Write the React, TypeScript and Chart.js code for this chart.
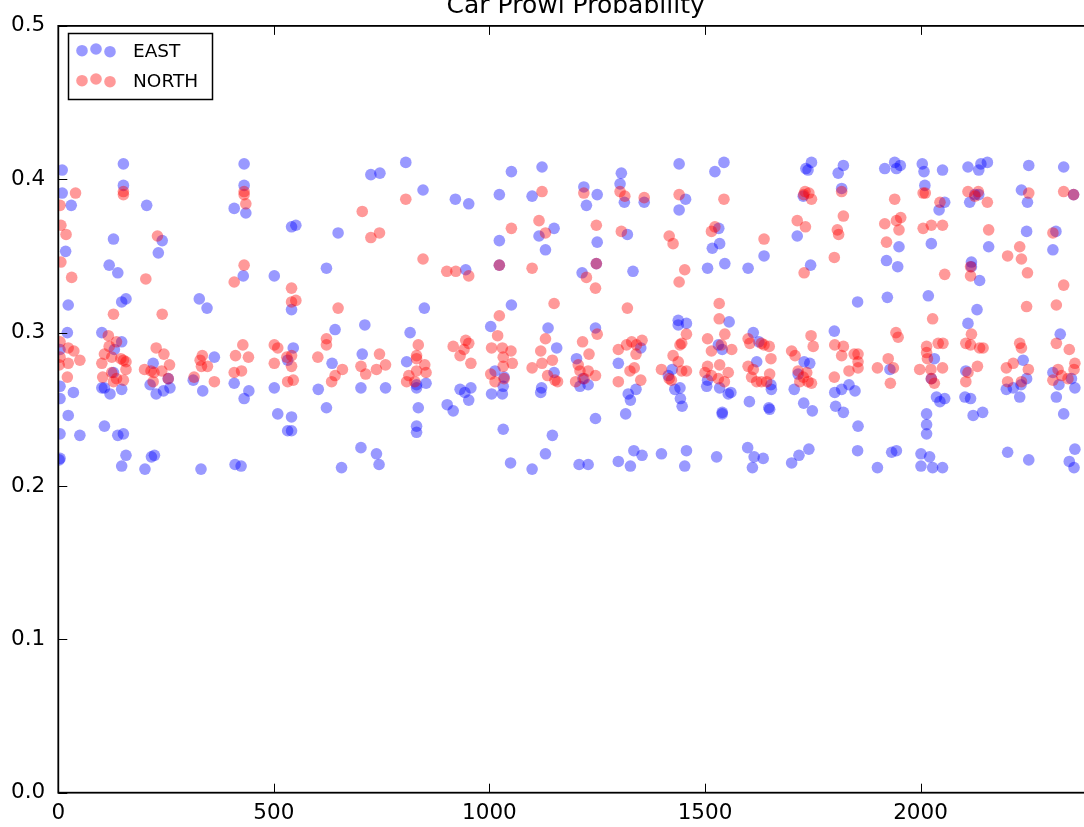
import React, { useEffect, useRef } from "react";
import { Chart, registerables } from "chart.js";

Chart.register(...registerables);

const titleText = "Car Prowl Probability";
const seriesNames = ["EAST", "NORTH"];
const xTickValues = [0, 500, 1000, 1500, 2000];
const yTickValues = [0.0, 0.1, 0.2, 0.3, 0.4, 0.5];

const eastX = [
  9, 151, 9, 151, 30, 205, 128, 17, 241, 232, 118, 138, 147, 157, 23, 327, 345, 21, 101, 147, 130, 4, 220, 128, 362, 4, 101, 107, 120, 147, 213, 227, 244, 259, 255, 313, 335, 35, 4, 23, 107, 50, 4, 138, 151, 4, 2, 157, 147, 216, 223, 201, 331,
  431, 431, 408, 435, 725, 746, 541, 551, 649, 622, 429, 501, 541, 642, 711, 545, 705, 532, 635, 408, 442, 431, 501, 603, 702, 759, 622, 509, 541, 532, 541, 410, 424, 657, 702, 738, 744,
  806, 846, 921, 952, 1051, 1023, 1122, 1099, 1150, 1115, 1130, 1023, 1023, 945, 849, 1051, 816, 1003, 1136, 1156, 808, 1150, 1013, 1034, 1032, 831, 831, 853, 932, 943, 957, 952, 1005, 1030, 1121, 1119, 835, 902, 916, 831, 831, 1032, 1146, 1049, 1130, 1099,
  1219, 1250, 1225, 1306, 1303, 1313, 1359, 1320, 1440, 1455, 1440, 1523, 1544, 1532, 1534, 1517, 1546, 1506, 1250, 1248, 1215, 1333, 1246, 1438, 1457, 1438, 1556, 1531, 1540, 1202, 1299, 1351, 1424, 1415, 1430, 1442, 1443, 1447, 1217, 1210, 1229, 1322, 1340, 1327, 1506, 1504, 1534, 1554, 1560, 1540, 1540, 1316, 1246, 1208, 1229, 1299, 1327, 1335, 1354, 1399, 1457, 1453, 1527,
  1734, 1747, 1739, 1809, 1821, 1917, 1940, 1953, 1944, 1817, 1728, 1714, 1637, 1600, 1745, 1950, 1921, 1947, 1854, 1923, 1612, 1625, 1800, 1620, 1730, 1743, 1716, 1929, 1653, 1654, 1707, 1801, 1817, 1834, 1848, 1603, 1648, 1650, 1729, 1749, 1803, 1821, 1855, 1599, 1614, 1635, 1610, 1701, 1718, 1741, 1854, 1900, 1933, 1944,
  2004, 2008, 2051, 2110, 2135, 2140, 2155, 2251, 2332, 2010, 2056, 2043, 2114, 2126, 2135, 2234, 2248, 2355, 2025, 2158, 2246, 2314, 2307, 2118, 2118, 2137, 2018, 2131, 2110, 2324, 2032, 2238, 2105, 2307, 2025, 2199, 2215, 2233, 2230, 2246, 2321, 2358, 2350, 2315, 2037, 2045, 2056, 2103, 2116, 2014, 2014, 2014, 2122, 2144, 2332, 2001, 2021, 2001, 2028, 2051, 2202, 2251, 2358, 2345, 2356,
];
const eastY = [
  0.406, 0.410, 0.391, 0.396, 0.383, 0.383, 0.361, 0.353, 0.360, 0.352, 0.344, 0.339, 0.320, 0.322, 0.318, 0.322, 0.316, 0.300, 0.300, 0.294, 0.289, 0.289, 0.280, 0.274, 0.284, 0.265, 0.264, 0.264, 0.260, 0.263, 0.266, 0.260, 0.262, 0.264, 0.270, 0.269, 0.262, 0.261, 0.257, 0.246, 0.239, 0.233, 0.234, 0.233, 0.234, 0.218, 0.217, 0.220, 0.213, 0.219, 0.220, 0.211, 0.211,
  0.410, 0.396, 0.381, 0.378, 0.403, 0.404, 0.369, 0.370, 0.365, 0.342, 0.337, 0.337, 0.315, 0.302, 0.305, 0.290, 0.286, 0.282, 0.280, 0.267, 0.262, 0.257, 0.264, 0.263, 0.264, 0.264, 0.251, 0.247, 0.245, 0.236, 0.236, 0.214, 0.213, 0.212, 0.225, 0.221, 0.214,
  0.411, 0.393, 0.387, 0.384, 0.405, 0.390, 0.408, 0.389, 0.368, 0.363, 0.354, 0.360, 0.344, 0.341, 0.316, 0.318, 0.300, 0.304, 0.303, 0.290, 0.281, 0.274, 0.275, 0.271, 0.265, 0.266, 0.264, 0.267, 0.263, 0.261, 0.264, 0.256, 0.260, 0.260, 0.264, 0.261, 0.251, 0.253, 0.249, 0.239, 0.235, 0.237, 0.233, 0.215, 0.221, 0.211,
  0.395, 0.390, 0.383, 0.404, 0.397, 0.385, 0.385, 0.364, 0.410, 0.387, 0.380, 0.405, 0.411, 0.368, 0.358, 0.355, 0.345, 0.342, 0.359, 0.345, 0.339, 0.340, 0.303, 0.308, 0.306, 0.305, 0.307, 0.292, 0.289, 0.283, 0.280, 0.290, 0.276, 0.272, 0.263, 0.264, 0.257, 0.252, 0.270, 0.265, 0.266, 0.260, 0.263, 0.256, 0.269, 0.265, 0.264, 0.260, 0.261, 0.247, 0.248, 0.247, 0.244, 0.214, 0.214, 0.216, 0.213, 0.223, 0.220, 0.221, 0.223, 0.213, 0.219,
  0.407, 0.411, 0.406, 0.404, 0.409, 0.407, 0.411, 0.409, 0.407, 0.394, 0.389, 0.363, 0.350, 0.342, 0.344, 0.356, 0.347, 0.343, 0.320, 0.323, 0.300, 0.294, 0.301, 0.281, 0.281, 0.280, 0.273, 0.276, 0.266, 0.263, 0.263, 0.261, 0.263, 0.266, 0.262, 0.255, 0.251, 0.250, 0.254, 0.249, 0.252, 0.248, 0.239, 0.225, 0.219, 0.218, 0.212, 0.215, 0.220, 0.224, 0.223, 0.212, 0.222, 0.223,
  0.410, 0.405, 0.406, 0.408, 0.406, 0.410, 0.411, 0.409, 0.408, 0.396, 0.385, 0.380, 0.385, 0.390, 0.390, 0.393, 0.385, 0.390, 0.358, 0.356, 0.366, 0.366, 0.354, 0.346, 0.343, 0.334, 0.324, 0.315, 0.306, 0.299, 0.283, 0.282, 0.275, 0.274, 0.270, 0.263, 0.264, 0.266, 0.258, 0.270, 0.266, 0.264, 0.270, 0.258, 0.258, 0.255, 0.257, 0.258, 0.257, 0.247, 0.240, 0.234, 0.246, 0.248, 0.247, 0.221, 0.219, 0.213, 0.212, 0.212, 0.222, 0.217, 0.224, 0.216, 0.212,
];

const northX = [
  40, 151, 151, 4, 6, 18, 230, 6, 31, 203, 128, 241, 4, 23, 36, 4, 23, 50, 21, 2, 116, 135, 118, 107, 124, 145, 151, 157, 101, 103, 128, 135, 151, 157, 124, 227, 245, 258, 200, 215, 222, 240, 220, 255, 334, 329, 346, 332, 315, 362,
  431, 431, 435, 705, 725, 745, 431, 408, 541, 541, 551, 649, 622, 622, 428, 411, 441, 501, 509, 530, 541, 501, 541, 602, 659, 642, 634, 408, 425, 532, 545, 702, 713, 745, 738, 759,
  806, 846, 901, 922, 952, 1023, 1051, 1122, 1115, 1130, 1099, 1150, 1023, 835, 831, 831, 850, 853, 831, 813, 808, 827, 916, 945, 952, 941, 932, 957, 1019, 1005, 1030, 1050, 1032, 1053, 1032, 1003, 1013, 1034, 1130, 1119, 1122, 1146, 1099, 1135, 1152, 1158,
  1219, 1303, 1314, 1359, 1440, 1544, 1248, 1306, 1417, 1426, 1523, 1515, 1248, 1225, 1246, 1453, 1440, 1320, 1533, 1533, 1250, 1216, 1231, 1206, 1210, 1229, 1246, 1200, 1220, 1299, 1318, 1330, 1341, 1354, 1340, 1336, 1326, 1299, 1351, 1457, 1446, 1442, 1426, 1438, 1446, 1457, 1399, 1417, 1422, 1506, 1546, 1538, 1562, 1515, 1506, 1534, 1554, 1500, 1531, 1545, 1515,
  1732, 1741, 1729, 1747, 1817, 1940, 1714, 1733, 1637, 1821, 1807, 1810, 1800, 1917, 1944, 1954, 1950, 1921, 1730, 1600, 1604, 1637, 1649, 1631, 1653, 1600, 1612, 1608, 1620, 1631, 1643, 1650, 1701, 1709, 1746, 1751, 1716, 1728, 1739, 1720, 1747, 1736, 1801, 1821, 1817, 1846, 1855, 1855, 1834, 1855, 1800, 1900, 1943, 1948, 1925, 1937, 1930,
  2006, 2011, 2045, 2110, 2134, 2126, 2155, 2251, 2332, 2355, 2006, 2025, 2051, 2158, 2307, 2202, 2230, 2234, 2248, 2116, 2116, 2056, 2332, 2028, 2246, 2315, 2118, 2041, 2052, 2014, 2014, 2016, 2105, 2116, 2137, 2145, 2230, 2234, 2315, 2345, 1998, 2024, 2051, 2025, 2032, 2110, 2132, 2105, 2215, 2199, 2250, 2202, 2234, 2319, 2307, 2327, 2358, 2356, 2342,
];
const northY = [
  0.391, 0.392, 0.390, 0.383, 0.370, 0.364, 0.363, 0.346, 0.336, 0.335, 0.312, 0.312, 0.294, 0.290, 0.288, 0.284, 0.280, 0.282, 0.271, 0.279, 0.298, 0.294, 0.291, 0.286, 0.284, 0.283, 0.282, 0.281, 0.280, 0.271, 0.268, 0.270, 0.269, 0.276, 0.274, 0.290, 0.286, 0.279, 0.276, 0.275, 0.274, 0.275, 0.268, 0.270, 0.285, 0.282, 0.278, 0.278, 0.271, 0.268,
  0.392, 0.390, 0.384, 0.379, 0.362, 0.365, 0.344, 0.333, 0.329, 0.320, 0.321, 0.316, 0.296, 0.292, 0.292, 0.285, 0.284, 0.292, 0.290, 0.284, 0.285, 0.280, 0.278, 0.284, 0.276, 0.272, 0.268, 0.274, 0.275, 0.268, 0.269, 0.278, 0.273, 0.286, 0.276, 0.279,
  0.387, 0.348, 0.340, 0.340, 0.337, 0.344, 0.368, 0.392, 0.373, 0.365, 0.342, 0.319, 0.311, 0.292, 0.285, 0.283, 0.279, 0.274, 0.275, 0.272, 0.268, 0.268, 0.291, 0.295, 0.293, 0.289, 0.285, 0.280, 0.298, 0.290, 0.290, 0.288, 0.284, 0.280, 0.278, 0.273, 0.268, 0.270, 0.296, 0.288, 0.280, 0.282, 0.277, 0.272, 0.269, 0.268,
  0.391, 0.392, 0.389, 0.388, 0.390, 0.387, 0.370, 0.366, 0.363, 0.358, 0.369, 0.366, 0.345, 0.336, 0.329, 0.341, 0.333, 0.316, 0.319, 0.309, 0.299, 0.294, 0.286, 0.279, 0.275, 0.275, 0.272, 0.268, 0.270, 0.289, 0.292, 0.294, 0.292, 0.295, 0.286, 0.277, 0.275, 0.268, 0.269, 0.299, 0.293, 0.292, 0.285, 0.281, 0.275, 0.275, 0.276, 0.270, 0.269, 0.296, 0.299, 0.292, 0.289, 0.288, 0.278, 0.279, 0.274, 0.274, 0.270, 0.268, 0.272,
  0.392, 0.391, 0.390, 0.387, 0.392, 0.387, 0.373, 0.369, 0.361, 0.376, 0.367, 0.364, 0.349, 0.371, 0.373, 0.375, 0.367, 0.359, 0.339, 0.296, 0.293, 0.292, 0.291, 0.293, 0.283, 0.278, 0.276, 0.271, 0.268, 0.268, 0.268, 0.273, 0.288, 0.285, 0.298, 0.291, 0.275, 0.271, 0.268, 0.268, 0.267, 0.274, 0.292, 0.291, 0.285, 0.286, 0.286, 0.281, 0.275, 0.277, 0.271, 0.277, 0.300, 0.297, 0.283, 0.277, 0.267,
  0.391, 0.391, 0.385, 0.392, 0.392, 0.389, 0.385, 0.391, 0.392, 0.390, 0.368, 0.370, 0.370, 0.367, 0.365, 0.350, 0.356, 0.348, 0.339, 0.343, 0.337, 0.338, 0.331, 0.309, 0.317, 0.318, 0.299, 0.293, 0.293, 0.291, 0.287, 0.283, 0.293, 0.292, 0.290, 0.290, 0.293, 0.290, 0.293, 0.289, 0.276, 0.276, 0.277, 0.270, 0.267, 0.274, 0.278, 0.268, 0.280, 0.277, 0.276, 0.268, 0.268, 0.276, 0.269, 0.272, 0.280, 0.276, 0.270,
];

const BLUE = "rgba(0, 0, 255, 0.4)";
const RED = "rgba(255, 0, 0, 0.4)";
const FONT = '"DejaVu Sans", "Liberation Sans", sans-serif';

const zip = (xs: number[], ys: number[]) => xs.map((x, i) => ({ x, y: ys[i] }));

const framePlugin = {
  id: "frame",
  afterDraw(chart: any) {
    const { ctx, chartArea } = chart;
    const { left, right, top, bottom } = chartArea;
    const xs = chart.scales.x;
    const ys = chart.scales.y;
    ctx.save();
    // spines
    ctx.strokeStyle = "#000";
    ctx.lineWidth = 1.8;
    ctx.strokeRect(left, top, right - left, bottom - top);
    // inward ticks
    ctx.lineWidth = 1;
    ctx.beginPath();
    xTickValues.forEach((v) => {
      const px = Math.round(xs.getPixelForValue(v)) + 0.5;
      ctx.moveTo(px, bottom);
      ctx.lineTo(px, bottom - 9);
      ctx.moveTo(px, top);
      ctx.lineTo(px, top + 9);
    });
    yTickValues.forEach((v) => {
      const py = Math.round(ys.getPixelForValue(v)) + 0.5;
      ctx.moveTo(left, py);
      ctx.lineTo(left + 9, py);
      ctx.moveTo(right, py);
      ctx.lineTo(right - 9, py);
    });
    ctx.stroke();
    // title (partially cut by the top edge)
    ctx.fillStyle = "#000";
    ctx.font = `25px ${FONT}`;
    ctx.textAlign = "center";
    ctx.textBaseline = "alphabetic";
    ctx.fillText(titleText, (left + right) / 2, 13.3);
    // legend
    const bx = 68.5, by = 33.5, bw = 144, bh = 66;
    ctx.fillStyle = "#fff";
    ctx.fillRect(bx, by, bw, bh);
    ctx.lineWidth = 1.5;
    ctx.strokeStyle = "#000";
    ctx.strokeRect(bx, by, bw, bh);
    const rows = [
      { name: seriesNames[0], color: BLUE, cy: 50, base: 57.3 },
      { name: seriesNames[1], color: RED, cy: 80, base: 87.3 },
    ];
    const offs = [
      [82, 0.7],
      [96, -1],
      [110, 1.7],
    ];
    rows.forEach((r) => {
      offs.forEach(([ox, dy]) => {
        ctx.beginPath();
        ctx.fillStyle = r.color;
        ctx.arc(ox, r.cy + dy, 5.8, 0, Math.PI * 2);
        ctx.fill();
      });
      ctx.fillStyle = "#000";
      ctx.font = `18.5px ${FONT}`;
      ctx.textAlign = "left";
      ctx.textBaseline = "alphabetic";
      ctx.fillText(r.name, 133, r.base);
    });
    ctx.restore();
  },
};

export default function App() {
  const canvasRef = useRef<HTMLCanvasElement | null>(null);

  useEffect(() => {
    if (!canvasRef.current) return;
    const chart = new Chart(canvasRef.current, {
      type: "scatter",
      data: {
        datasets: [
          {
            label: seriesNames[0],
            data: zip(eastX, eastY),
            backgroundColor: BLUE,
            borderColor: BLUE,
            borderWidth: 0,
            pointRadius: 5.8,
            order: 2,
          },
          {
            label: seriesNames[1],
            data: zip(northX, northY),
            backgroundColor: RED,
            borderColor: RED,
            borderWidth: 0,
            pointRadius: 5.8,
            order: 1,
          },
        ],
      },
      plugins: [framePlugin],
      options: {
        responsive: false,
        animation: false,
        devicePixelRatio: 1,
        layout: { padding: { top: 22.7, right: 7, left: 0, bottom: 0 } },
        plugins: {
          legend: { display: false },
          title: { display: false },
          tooltip: { enabled: false },
        },
        scales: {
          x: {
            type: "linear",
            min: 0,
            max: 2400,
            grid: { display: false, drawTicks: false },
            border: { display: false },
            afterBuildTicks: (scale: any) => {
              scale.ticks = xTickValues.map((v) => ({ value: v }));
            },
            afterFit: (scale: any) => {
              scale.height = 827 - 792.7;
            },
            ticks: {
              padding: 8,
              color: "#000",
              font: { family: FONT, size: 21.5 },
              maxRotation: 0,
              callback: (v: any) => String(v),
            },
          },
          y: {
            type: "linear",
            min: 0,
            max: 0.5,
            grid: { display: false, drawTicks: false },
            border: { display: false },
            afterBuildTicks: (scale: any) => {
              scale.ticks = yTickValues.map((v) => ({ value: v }));
            },
            afterFit: (scale: any) => {
              scale.width = 58.3;
            },
            ticks: {
              padding: 13,
              color: "#000",
              font: { family: FONT, size: 21.5 },
              callback: (v: any) => Number(v).toFixed(1),
            },
          },
        },
      },
    });
    return () => chart.destroy();
  }, []);

  return (
    <div
      style={{
        position: "absolute",
        left: 0,
        top: 0,
        width: 1084,
        height: 827,
        overflow: "hidden",
        background: "#fff",
      }}
    >
      <canvas ref={canvasRef} width={1100} height={827} style={{ display: "block" }} />
    </div>
  );
}
